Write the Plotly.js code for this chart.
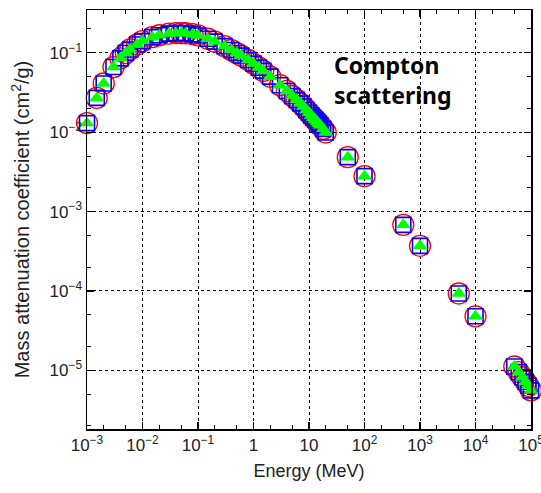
<!DOCTYPE html>
<html><head><meta charset="utf-8">
<script src="https://cdn.plot.ly/plotly-3.0.1.min.js"></script>
<style>html,body{margin:0;padding:0;background:#fff}#chart{width:541px;height:493px}</style>
</head><body><div id="chart"></div>
<script>
// Photon energy (MeV)
const energy = [1e-3,1.5e-3,2e-3,3e-3,4e-3,5e-3,6e-3,8e-3,1e-2,1.5e-2,2e-2,3e-2,4e-2,5e-2,6e-2,8e-2,
  0.1,0.15,0.2,0.3,0.4,0.5,0.6,0.8,1,1.25,1.5,2,3,4,5,6,7,8,9,10,11,12,13,14,15,16,18,20,
  50,100,500,1000,5000,1e4,5e4,6e4,7e4,8e4,9e4,1e5];
// Compton mass attenuation coefficient (cm^2/g), three overlapping data sets
const muSetA = [0.013,0.027,0.041,0.066,0.085,0.099,0.110,0.127,0.140,0.157,0.166,0.174,0.177,0.177,0.176,0.171,
  0.165,0.150,0.138,0.121,0.108,0.099,0.092,0.081,0.073,0.065,0.059,0.050,0.039,0.033,0.0285,0.0255,0.023,0.021,0.019,0.0175,0.0162,0.0152,0.0143,0.0135,0.0128,0.0122,0.011,0.0099,
  0.00484,0.00279,6.8e-4,3.7e-4,9.3e-5,4.8e-5,1.12e-5,9.5e-6,8.2e-6,7.2e-6,6.4e-6,5.6e-6];
const muSetB = muSetA.slice();
const muSetC = muSetA.slice();

const xTickVals = [1e-3,1e-2,1e-1,1,10,1e2,1e3,1e4,1e5];
const xTickText = ['10<sup>−3</sup>','10<sup>−2</sup>','10<sup>−1</sup>','1','10','10<sup>2</sup>','10<sup>3</sup>','10<sup>4</sup>','10<sup>5</sup>'];
const yTickVals = [1e-5,1e-4,1e-3,1e-2,1e-1];
const yTickText = ['10<sup>−5</sup>','10<sup>−4</sup>','10<sup>−3</sup>','10<sup>−2</sup>','10<sup>−1</sup>'];

const traces = [
  {x: energy, y: muSetA, mode:'markers', type:'scatter', showlegend:false, cliponaxis:false,
   marker:{symbol:'circle-open', size:21, color:'#ff0000', line:{width:1.3, color:'#ff0000'}}},
  {x: energy, y: muSetB, mode:'markers', type:'scatter', showlegend:false, cliponaxis:false,
   marker:{symbol:'square-open', size:15, color:'#0000ff', line:{width:1.6, color:'#0000ff'}}},
  {x: energy, y: muSetC, mode:'markers', type:'scatter', showlegend:false, cliponaxis:false,
   marker:{symbol:'triangle-up', size:13, color:'#00ff00', line:{width:0}}}
];

const axisCommon = {
  type:'log', showline:true, linecolor:'#000', linewidth:1.5, mirror:'allticks',
  ticks:'inside', ticklen:7, tickwidth:1.2, tickcolor:'#000',
  showgrid:true, gridcolor:'#000', griddash:'dot', gridwidth:1, zeroline:false,
  ticklabeloverflow:'allow',
  tickfont:{family:'Liberation Sans, Arial, sans-serif', size:17, color:'#222'},
  minor:{ticks:'inside', ticklen:4, tickwidth:1, tickcolor:'#000', showgrid:false}
};

const layout = {
  width:541, height:493,
  margin:{l:86.5, r:9.5, t:10, b:63.5},
  paper_bgcolor:'#fff', plot_bgcolor:'#fff',
  xaxis: Object.assign({}, axisCommon, {
    range:[-3,5], tickmode:'array', tickvals:xTickVals, ticktext:xTickText,
    title:{text:'Energy (MeV)', font:{family:'Liberation Sans, Arial, sans-serif', size:18, color:'#222'}, standoff:10}
  }),
  yaxis: Object.assign({}, axisCommon, {
    range:[-5.738,-0.462], tickmode:'array', tickvals:yTickVals, ticktext:yTickText,
    title:{text:'Mass attenuation coefficient (cm<sup>2</sup>/g)', font:{family:'Liberation Sans, Arial, sans-serif', size:20, color:'#222'}, standoff:14}
  }),
  annotations:[{
    xref:'paper', yref:'paper', x:0.551, y:0.832, xanchor:'left', yanchor:'middle', align:'left',
    text:'<b>Compton<br>scattering</b>', showarrow:false,
    font:{family:'Noto Sans, Open Sans, sans-serif', size:23, color:'#000'}
  }]
};

Plotly.newPlot('chart', traces, layout, {displayModeBar:false, staticPlot:true});
</script>
</body></html>
